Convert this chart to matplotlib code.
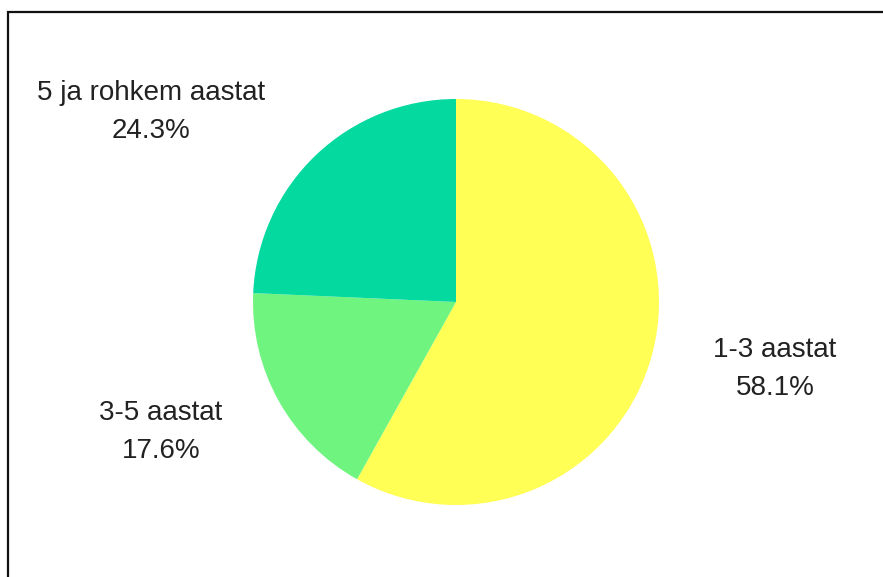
import matplotlib
matplotlib.use("Agg")
import matplotlib.pyplot as plt
from matplotlib.patches import Rectangle

categories = ["1-3 aastat", "3-5 aastat", "5 ja rohkem aastat"]
values = [58.1, 17.6, 24.3]
colors = ["#FFFF55", "#6FF57F", "#04D9A0"]

W, H = 883, 577
fig = plt.figure(figsize=(W / 100, H / 100), dpi=100)
fig.patch.set_facecolor("white")

# frame (partially cropped box)
fig.patches.append(Rectangle((8 / W, -0.1), 1.2, (H - 12) / H + 0.1, transform=fig.transFigure,
                             fill=False, edgecolor="#111111", linewidth=1.6))

cx, cy, R = 456, 302, 203
ax = fig.add_axes([0, 0, 1, 1])

ax.pie(values, colors=colors, startangle=90, counterclock=False, radius=1.0,
       wedgeprops=dict(linewidth=0))
ax.set_aspect("auto")
ax.set_xlim(-cx / R, (W - cx) / R)
ax.set_ylim(-(H - cy) / R, cy / R)
ax.axis("off")

label_pos = [((775 - cx) / R, (cy - 369) / R),
             ((161 - cx) / R, (cy - 432) / R),
             ((151 - cx) / R, (cy - 112) / R)]
for cat, v, (x, y) in zip(categories, values, label_pos):
    ax.text(x, y, f"{cat}\n{v:.1f}%", ha="center", va="center", fontsize=20,
            family="Liberation Sans", color="#222222", linespacing=1.6)

fig.savefig("out.png", dpi=100)
